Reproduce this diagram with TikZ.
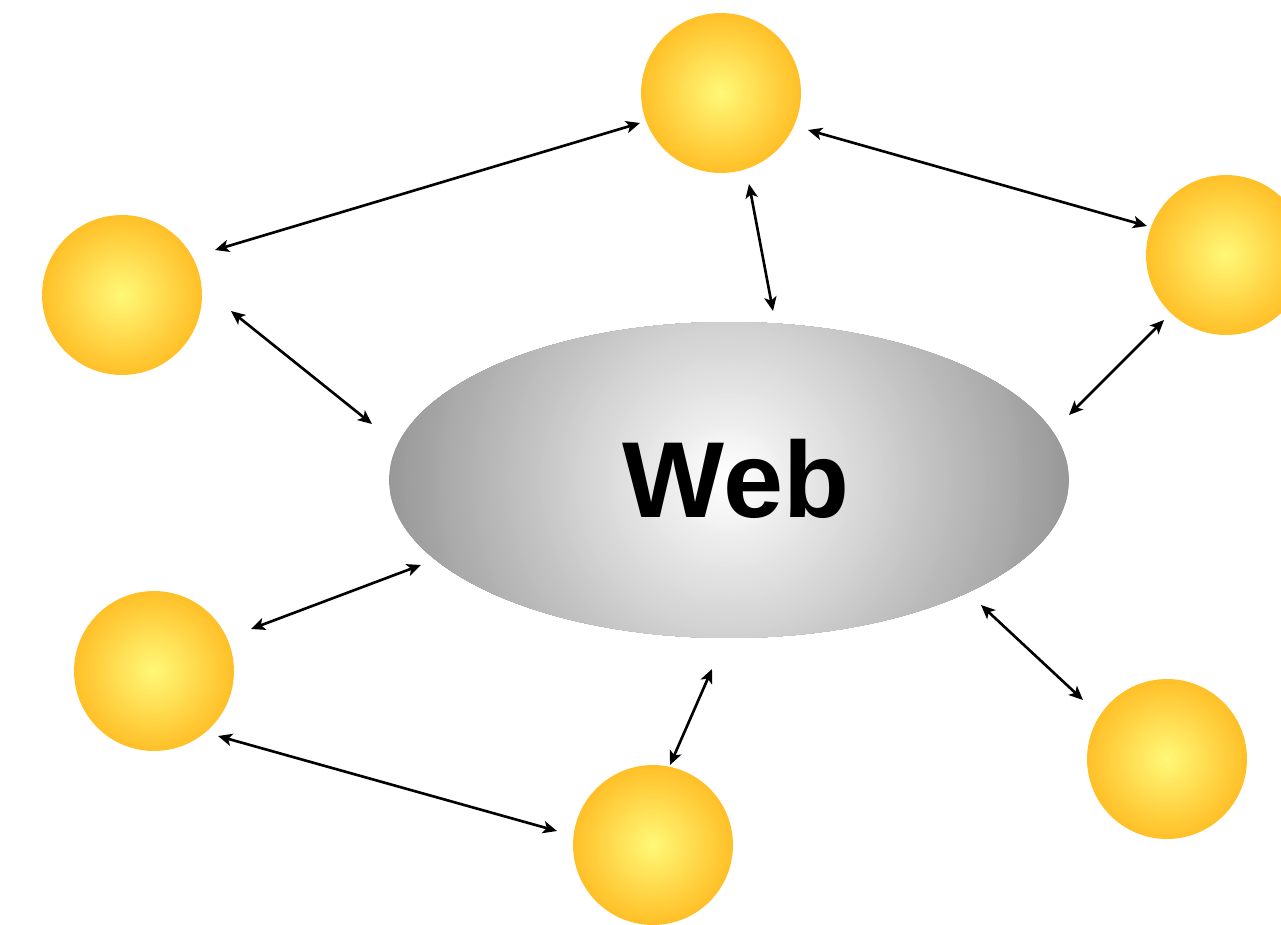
\documentclass[tikz,border=0pt]{standalone}
\usepackage{fontspec}
\setmainfont{Liberation Sans}
\usetikzlibrary{arrows.meta,shapes.geometric}
\definecolor{sunin}{RGB}{255,248,120}
\definecolor{sunout}{RGB}{255,192,40}
\definecolor{webout}{RGB}{152,152,152}
\tikzset{
  sun/.style={circle, minimum size=3.2cm, inner sep=0pt, fill=sunout,
    path picture={\foreach \k in {1,...,60}{\fill[sunin!\the\numexpr\k*100/60\relax!sunout] (path picture bounding box.center) circle[radius={1.6cm*(1-\k/61)}];}}},
  web/.style={ellipse, minimum width=13.6cm, minimum height=6.32cm, inner sep=0pt, fill=webout,
    path picture={\foreach \k in {1,...,90}{\fill[white!\the\numexpr\k*100/90\relax!webout] (path picture bounding box.center) circle[radius={6.85cm*(1-\k/91)}];}}},
  link/.style={{Stealth[length=8pt,width=7pt,inset=2pt]}-{Stealth[length=8pt,width=7pt,inset=2pt]}, line width=1.5pt, black}
}
\begin{document}
\begin{tikzpicture}[x=0.02cm,y=-0.02cm]
\useasboundingbox (0,0) rectangle (1281,924);
\begin{scope}
\clip (0,0) rectangle (1281,924);
\node[sun] (top) at (721,93) {};
\node[sun] (left) at (122,295) {};
\node[sun] (right) at (1226,255) {};
\node[sun] (lbot) at (154,671) {};
\node[sun] (bot) at (653,845) {};
\node[sun] (rbot) at (1167,759) {};
\node[web] (web) at (729,480) {};
\end{scope}
\node[font=\bfseries\fontsize{61.5}{62}\selectfont, anchor=base] (label) at (736,517) {Web};
% endpoints
\coordinate (a1) at (215,250); \coordinate (b1) at (640,123);
\coordinate (a2) at (808,130); \coordinate (b2) at (1147,226);
\coordinate (a3) at (749,184); \coordinate (b3) at (773,311);
\coordinate (a4) at (231,311); \coordinate (b4) at (372,424);
\coordinate (a5) at (1164,320); \coordinate (b5) at (1069,415);
\coordinate (a6) at (421,565); \coordinate (b6) at (251,629);
\coordinate (a7) at (981,605); \coordinate (b7) at (1083,700);
\coordinate (a8) at (712,669); \coordinate (b8) at (670,765);
\coordinate (a9) at (218,736); \coordinate (b9) at (557,831);
\foreach \i in {1,...,9} {\draw[link] (a\i) -- (b\i);}
\end{tikzpicture}
\end{document}
